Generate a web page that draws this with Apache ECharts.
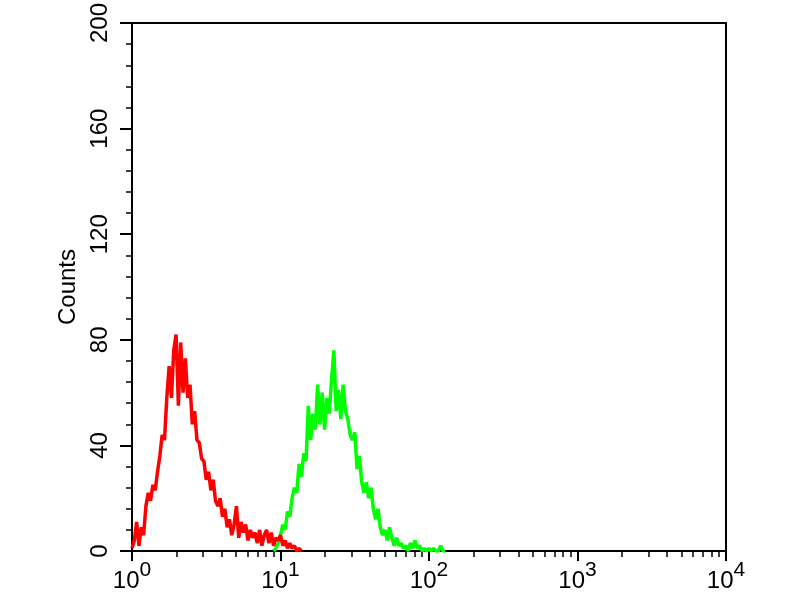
<!DOCTYPE html>
<html>
<head>
    <meta charset="utf-8">
    <title>Counts histogram</title>
    <script src="https://cdn.jsdelivr.net/npm/echarts@6.0.0/dist/echarts.min.js"></script>
    <style>
        html, body { margin: 0; padding: 0; background: #fff; }
        #chart { width: 800px; height: 600px; }
    </style>
</head>
<body>
    <div id="chart"></div>
    <script>
        // 1024 channels over 4 decades: intensity = 10^(channel/256)
        const channelsPerDecade = 256;
        const channelStep = 4;

        // red histogram (control), counts from channel 0
        const redStart = 0;
        const redCounts = [
            1, 4, 11, 2, 9, 6, 17, 22, 19, 25, 23, 30, 36, 44, 42, 58, 70, 58, 76, 82,
            55, 79, 60, 73, 58, 63, 48, 53, 42, 41, 35, 34, 27, 30, 23, 27, 19, 17, 20, 13,
            16, 9, 12, 6, 10, 17, 5, 11, 7, 10, 4, 8, 5, 7, 3, 8, 2, 6, 8, 3,
            7, 2, 5, 4, 6, 2, 4, 1, 3, 1, 2, 0, 1, 0
        ];

        // green histogram (stained), counts from channel 244
        const greenStart = 244;
        const greenCounts = [
            0, 1, 3, 6, 10, 8, 15, 13, 20, 24, 22, 33, 28, 37, 34, 55, 42, 52, 46, 63,
            48, 60, 46, 58, 52, 65, 76, 53, 61, 50, 63, 53, 50, 44, 42, 45, 31, 36, 26, 22,
            26, 20, 24, 16, 12, 16, 9, 6, 8, 4, 9, 5, 2, 5, 2, 3, 1, 2, 0, 3,
            1, 4, 1, 2, 0, 1, 0, 1, 0, 1, 0, 0, 2, 0, 0
        ];

        // axis ticks
        const yTicks = [0, 40, 80, 120, 160, 200];
        const xDecades = [1, 10, 100, 1000, 10000];
        const xMinorTicks = [
            2, 3, 4, 5, 6, 7, 8, 9,
            20, 30, 40, 50, 60, 70, 80, 90,
            200, 300, 400, 500, 600, 700, 800, 900,
            2000, 3000, 4000, 5000, 6000, 7000, 8000, 9000
        ];

        function toPoints(start, counts) {
            return counts.map((c, i) => [Math.pow(10, (start + i * channelStep) / channelsPerDecade), c]);
        }

        const chart = echarts.init(document.getElementById('chart'));
        const font = 'Liberation Sans, Arial, sans-serif';

        chart.setOption({
            animation: false,
            backgroundColor: '#fff',
            grid: {
                left: 132, right: 74, top: 21, bottom: 49,
                show: true, borderColor: '#000', borderWidth: 2, backgroundColor: 'transparent'
            },
            xAxis: [{
                type: 'log',
                logBase: 10,
                min: xDecades[0],
                max: xDecades[xDecades.length - 1],
                splitLine: { show: false },
                axisLine: { lineStyle: { color: '#000', width: 2 } },
                axisTick: { length: 10, lineStyle: { color: '#000', width: 2 } },
                axisLabel: {
                    margin: 18,
                    color: '#000',
                    fontFamily: font,
                    formatter: v => '{b|10}{s|' + Math.round(Math.log10(v)) + '}',
                    rich: {
                        b: { fontSize: 24, fontFamily: font, color: '#000', lineHeight: 24, verticalAlign: 'bottom' },
                        s: { fontSize: 21, fontFamily: font, color: '#000', lineHeight: 21, padding: [0, 0, 12, 0], verticalAlign: 'bottom' }
                    }
                }
            }, {
                type: 'log',
                logBase: 10,
                position: 'bottom',
                min: xDecades[0],
                max: xDecades[xDecades.length - 1],
                splitLine: { show: false },
                axisLine: { show: false },
                axisLabel: { show: false },
                axisTick: { length: 6, customValues: xMinorTicks, lineStyle: { color: '#000', width: 1.5 } }
            }],
            yAxis: {
                type: 'value',
                min: yTicks[0],
                max: yTicks[yTicks.length - 1],
                interval: 40,
                name: 'Counts',
                nameLocation: 'middle',
                nameRotate: 90,
                nameGap: 52,
                nameTextStyle: { fontSize: 24, fontFamily: font, color: '#000' },
                splitLine: { show: false },
                axisLine: { show: true, lineStyle: { color: '#000', width: 2 } },
                axisTick: { show: true, length: 12, lineStyle: { color: '#000', width: 2 } },
                minorTick: { show: true, splitNumber: 5, length: 6, lineStyle: { color: '#000', width: 1.5 } },
                axisLabel: {
                    rotate: 90,
                    margin: 20,
                    fontSize: 24,
                    fontFamily: font,
                    color: '#000',
                    showMaxLabel: true
                }
            },
            series: [{
                type: 'line',
                data: toPoints(greenStart, greenCounts),
                showSymbol: false,
                lineStyle: { color: '#00ff00', width: 3.5 },
                z: 2
            }, {
                type: 'line',
                data: toPoints(redStart, redCounts),
                showSymbol: false,
                lineStyle: { color: '#ff0000', width: 3.5 },
                z: 3
            }]
        });
    </script>
</body>
</html>
